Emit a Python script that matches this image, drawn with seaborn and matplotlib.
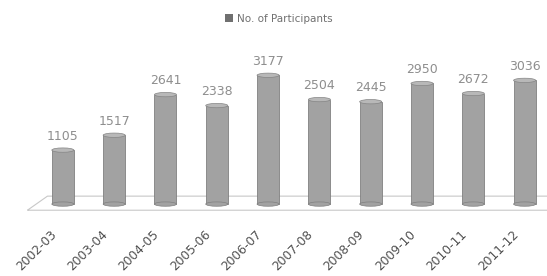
import matplotlib
matplotlib.use('Agg')
import matplotlib.pyplot as plt
import matplotlib.transforms as mtransforms
import seaborn as sns
import pandas as pd
from matplotlib.patches import Ellipse, Polygon, Patch

sns.set_style("white")

years = ['2002-03', '2003-04', '2004-05', '2005-06', '2006-07',
         '2007-08', '2008-09', '2009-10', '2010-11', '2011-12']
participants = [1105, 1517, 2641, 2338, 3177, 2504, 2445, 2950, 2672, 3036]

df = pd.DataFrame({'Year': years, 'Participants': participants})

fig = plt.figure(figsize=(5.47, 2.76), dpi=100)
ax = fig.add_axes([0.068, 0.3116, 0.938, 0.471])

sns.barplot(x='Year', y='Participants', data=df, color='#a2a2a2',
            width=0.43, saturation=1, edgecolor='#808080', linewidth=0.6, ax=ax)

ax.set_xlim(-0.5, 9.5)
ax.set_ylim(0, 3600)

depth = 390  # bars sink into the 3-D floor
for p, v in zip(ax.patches, participants):
    cx = p.get_x() + p.get_width() / 2
    top = p.get_height()
    p.set_y(-depth)
    p.set_height(top + depth)
    ax.add_patch(Ellipse((cx, top), p.get_width(), 120, facecolor='#b8b8b8',
                         edgecolor='#858585', linewidth=0.5, zorder=4))
    ax.add_patch(Ellipse((cx, -depth), p.get_width(), 120, facecolor='#a2a2a2',
                         edgecolor='#808080', linewidth=0.5, zorder=1,
                         clip_on=False))
    p.set_clip_on(False)
    ax.text(cx, top + 200, str(v), ha='center', va='bottom',
            fontsize=9, color='#8e8e8e')

# floor platform
floor = Polygon([(-0.69, -560), (10.2, -560), (10.4, -170), (-0.3, -170)],
                closed=True, facecolor='none', edgecolor='#c8c8c8',
                linewidth=0.8, clip_on=False, zorder=0)
ax.add_patch(floor)

sns.despine(ax=ax, left=True, bottom=True)
ax.set_yticks([])
ax.set_xlabel('')
ax.set_ylabel('')
ax.tick_params(axis='x', length=0, pad=27)
shift = mtransforms.ScaledTranslation(-13 / 100, 0, fig.dpi_scale_trans)
for lab in ax.get_xticklabels():
    lab.set_rotation(45)
    lab.set_ha('right')
    lab.set_rotation_mode('anchor')
    lab.set_fontsize(8.8)
    lab.set_color('#505050')
    lab.set_transform(lab.get_transform() + shift)

handle = Patch(facecolor='#707070', edgecolor='none')
fig.legend([handle], ['No. of Participants'], loc='upper center',
           bbox_to_anchor=(0.51, 0.985), frameon=False, fontsize=7.5,
           handlelength=0.7, handleheight=0.7, handletextpad=0.4,
           labelcolor='#707070')

fig.savefig('out.png', dpi=100)
